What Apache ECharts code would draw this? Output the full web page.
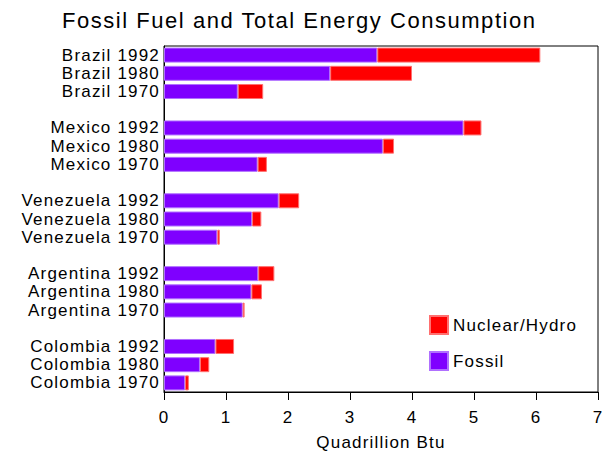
<!DOCTYPE html>
<html>
<head>
<meta charset="utf-8">
<script src="https://cdn.jsdelivr.net/npm/echarts@6/dist/echarts.min.js"></script>
<style>
  html, body { margin: 0; padding: 0; background: #fff; }
  #chart { width: 609px; height: 452px; }
  /* slightly wider tracking for all chart text */
  #chart text { letter-spacing: 0.07em; }
</style>
</head>
<body>
<div id="chart"></div>
<script>
// Rows from top to bottom; blank entries are spacer rows between countries.
const categories = [
  'Brazil 1992', 'Brazil 1980', 'Brazil 1970', '',
  'Mexico 1992', 'Mexico 1980', 'Mexico 1970', ' ',
  'Venezuela 1992', 'Venezuela 1980', 'Venezuela 1970', '  ',
  'Argentina 1992', 'Argentina 1980', 'Argentina 1970', '   ',
  'Colombia 1992', 'Colombia 1980', 'Colombia 1970'
];

// Fossil fuel consumption, quadrillion Btu
const fossil = [
  3.44, 2.68, 1.19, '-',
  4.83, 3.53, 1.51, '-',
  1.85, 1.42, 0.86, '-',
  1.52, 1.41, 1.27, '-',
  0.83, 0.58, 0.34
];

// Nuclear and hydroelectric consumption, quadrillion Btu
const nuclearHydro = [
  2.63, 1.32, 0.41, '-',
  0.29, 0.18, 0.15, '-',
  0.33, 0.15, 0.04, '-',
  0.26, 0.17, 0.03, '-',
  0.30, 0.15, 0.06
];

const xTicks = [0, 1, 2, 3, 4, 5, 6, 7];

const font = 'Liberation Sans, Arial, sans-serif';
const chart = echarts.init(document.getElementById('chart'), null, { renderer: 'svg' });

chart.setOption({
  animation: false,
  backgroundColor: '#fff',
  title: {
    text: 'Fossil Fuel and Total Energy Consumption',
    left: 57,
    top: 4,
    textStyle: { fontFamily: font, fontSize: 22, fontWeight: 'normal', color: '#000' }
  },
  legend: {
    orient: 'vertical',
    left: 424,
    top: 310,
    itemWidth: 18,
    itemHeight: 18,
    itemGap: 16,
    icon: 'rect',
    data: ['Nuclear/Hydro', 'Fossil'],
    textStyle: { fontFamily: font, fontSize: 17, color: '#000', padding: [3, 0, -3, 0] }
  },
  grid: {
    left: 164,
    right: 11,
    top: 46,
    bottom: 60,
    outerBoundsMode: 'none',
    show: true,
    borderColor: '#000',
    borderWidth: 1
  },
  xAxis: {
    type: 'value',
    min: xTicks[0],
    max: xTicks[xTicks.length - 1],
    interval: 1,
    name: 'Quadrillion Btu',
    nameLocation: 'middle',
    nameGap: 42,
    nameTextStyle: { fontFamily: font, fontSize: 17, color: '#000' },
    axisLine: { show: true, lineStyle: { color: '#000', width: 1 } },
    axisTick: { show: true, length: 8, lineStyle: { color: '#000' } },
    axisLabel: { fontFamily: font, fontSize: 17, color: '#000', margin: 17 },
    splitLine: { show: false }
  },
  yAxis: {
    type: 'category',
    inverse: true,
    data: categories,
    axisLine: { show: true, lineStyle: { color: '#000', width: 1 } },
    axisTick: { show: false },
    axisLabel: { fontFamily: font, fontSize: 17, color: '#000', margin: 4, interval: 0 }
  },
  series: [
    {
      name: 'Fossil',
      type: 'bar',
      stack: 'total',
      data: fossil,
      barWidth: 15,
      itemStyle: { color: '#7f00ff', borderColor: '#b070ff', borderWidth: 1 }
    },
    {
      name: 'Nuclear/Hydro',
      type: 'bar',
      stack: 'total',
      data: nuclearHydro,
      barWidth: 15,
      itemStyle: { color: '#ff0000', borderColor: '#ff7070', borderWidth: 1 }
    }
  ]
});
</script>
</body>
</html>
